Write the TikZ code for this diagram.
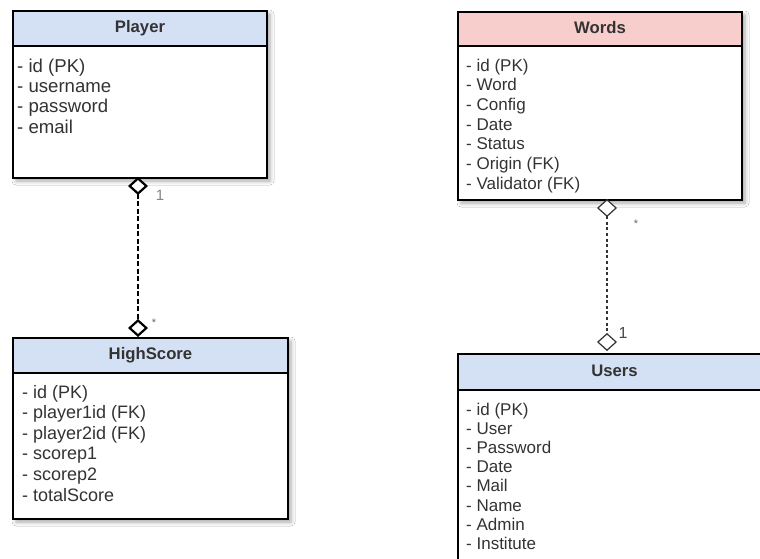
\documentclass[tikz,border=0pt]{standalone}
\usepackage{fontspec}
\setmainfont{Liberation Sans}
\usetikzlibrary{arrows.meta,shadows.blur}
\definecolor{hdrblue}{HTML}{D4E1F5}
\definecolor{hdrred}{HTML}{F8CECC}
\definecolor{ink}{HTML}{333333}
\definecolor{lbl}{HTML}{666666}

\begin{document}
\begin{tikzpicture}[x=1pt,y=-1pt,
  entity/.style={draw=black, line width=2pt, fill=white, rectangle, inner sep=0pt,
    anchor=north west,
    blur shadow={shadow xshift=3pt, shadow yshift=-3pt, shadow blur radius=4pt, shadow opacity=35}},
  header/.style={draw=black, line width=2pt, rectangle, inner sep=0pt, anchor=north west,
    text=ink, font=\fontsize{16.7}{20}\selectfont\bfseries, text height=12pt, text depth=3.5pt},
  fields/.style={anchor=north west, inner sep=0pt, align=left, text=ink},
  assocA/.style={line width=2.2pt, dash pattern=on 5pt off 2.5pt,
    {Diamond[open, fill=white, length=18pt, width=20pt]}-{Diamond[open, fill=white, length=18pt, width=20pt]}},
  assocB/.style={line width=1.2pt, draw=ink, dash pattern=on 3pt off 2.6pt,
    {Diamond[open, fill=white, length=18pt, width=20pt]}-{Diamond[open, fill=white, length=18pt, width=20pt]}},
  mult/.style={inner sep=0pt, text=lbl}
]
\useasboundingbox (0,0) rectangle (760,558);
\clip (0,0) rectangle (760,558);
\fill[white] (0,0) rectangle (760,558);

% Player
\node[entity, minimum width=254pt, minimum height=167pt] (player) at (12,10) {};
\node[header, fill=hdrblue, minimum width=254pt, minimum height=35pt] (playerH) at (12,10) {Player};
\node[fields, font=\fontsize{18.6}{20.3}\selectfont] (playerF) at (17,58.5)
  {- id (PK)\\- username\\- password\\- email};

% Words
\node[entity, minimum width=284pt, minimum height=188pt] (words) at (457,11) {};
\node[header, fill=hdrred, minimum width=284pt, minimum height=34pt] (wordsH) at (457,11) {Words};
\node[fields, font=\fontsize{17}{19.7}\selectfont] (wordsF) at (466,58.6)
  {- id (PK)\\- Word\\- Config\\- Date\\- Status\\- Origin (FK)\\- Validator (FK)};

% HighScore
\node[entity, minimum width=275pt, minimum height=181pt] (score) at (12,337) {};
\node[header, fill=hdrblue, minimum width=275pt, minimum height=35pt] (scoreH) at (12,337) {HighScore};
\node[fields, font=\fontsize{18}{20.6}\selectfont] (scoreF) at (22,384.8)
  {- id (PK)\\- player1id (FK)\\- player2id (FK)\\- scorep1\\- scorep2\\- totalScore};

% Users
\node[entity, minimum width=313pt, minimum height=240pt] (users) at (457,353) {};
\node[header, fill=hdrblue, minimum width=313pt, minimum height=36pt] (usersH) at (457,353) {Users};
\node[fields, font=\fontsize{17}{19.2}\selectfont] (usersF) at (466,402.6)
  {- id (PK)\\- User\\- Password\\- Date\\- Mail\\- Name\\- Admin\\- Institute};

% Player -- HighScore
\coordinate (pTop) at (138,177);
\coordinate (pBot) at (138,337);
\draw[assocA] (pTop) -- (pBot);
\node[mult, font=\fontsize{15}{15}\selectfont, text=lbl!80] (m1) at (160,195) {1};
\node[mult, font=\fontsize{11}{11}\selectfont] (m2) at (154,323) {*};

% Words -- Users
\coordinate (wTop) at (607,199);
\coordinate (wBot) at (607,351);
\draw[assocB] (wTop) -- (wBot);
\node[mult, font=\fontsize{11}{11}\selectfont] (m3) at (636,224) {*};
\node[mult, font=\fontsize{16}{16}\selectfont, text=ink!90] (m4) at (623,333) {1};
\end{tikzpicture}
\end{document}
